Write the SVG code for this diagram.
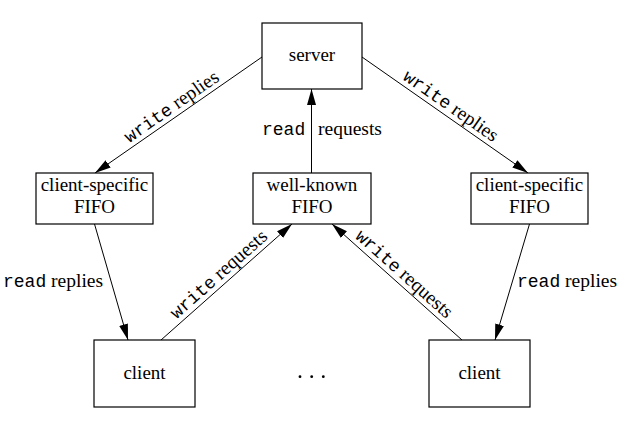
<svg xmlns="http://www.w3.org/2000/svg" width="629" height="423" viewBox="0 0 629 423">
<style>
.box{fill:#fff;stroke:#000;stroke-width:1.2}
.lbl{font-family:"Liberation Serif",serif;font-size:19px;fill:#000;text-anchor:middle}
.edge{stroke:#000;stroke-width:1;fill:none;marker-end:url(#ah)}
.m{font-family:"Liberation Mono",monospace;font-size:18px}
.s{font-family:"Liberation Serif",serif;font-size:19.5px}
.el{fill:#000}
</style>
<defs>
<marker id="ah" markerUnits="userSpaceOnUse" viewBox="0 0 16 10" refX="16" refY="5" markerWidth="16" markerHeight="10" orient="auto">
<path d="M0,0.5 L16,5 L0,9.5 z" fill="#000"/>
</marker>
</defs>
<rect width="629" height="423" fill="#fff"/>
<g id="connectors">
<line class="edge" x1="262" y1="57" x2="95" y2="173"/>
<line class="edge" x1="362" y1="57" x2="528" y2="173"/>
<line class="edge" x1="311.5" y1="173" x2="311.5" y2="89"/>
<line class="edge" x1="94.5" y1="224" x2="128" y2="340"/>
<line class="edge" x1="161" y1="340" x2="292" y2="224"/>
<line class="edge" x1="462" y1="340" x2="332" y2="224"/>
<line class="edge" x1="529.5" y1="224" x2="495" y2="340"/>
<g class="el">
<text transform="translate(177.7,115.6) rotate(-34.8)" y="-5" text-anchor="middle"><tspan class="m">write</tspan><tspan class="s"> replies</tspan></text>
<text transform="translate(444.6,114.7) rotate(34.9)" y="-5" text-anchor="middle"><tspan class="m">write</tspan><tspan class="s"> replies</tspan></text>
<text x="262" y="135"><tspan class="m">read</tspan></text>
<text x="318" y="135"><tspan class="s">requests</tspan></text>
<text x="3" y="287"><tspan class="m">read</tspan><tspan class="s"> replies</tspan></text>
<text x="517" y="287"><tspan class="m">read</tspan><tspan class="s"> replies</tspan></text>
<text transform="translate(225.9,282.5) rotate(-41.5)" y="-5" text-anchor="middle"><tspan class="m">write</tspan><tspan class="s"> requests</tspan></text>
<text transform="translate(397,282) rotate(41.7)" y="-5" text-anchor="middle"><tspan class="m">write</tspan><tspan class="s"> requests</tspan></text>
</g>
</g>
<g id="server">
<rect class="box" x="262" y="23" width="100" height="66"/>
<text class="lbl" x="312" y="61">server</text>
</g>
<g id="fifo-left">
<rect class="box" x="36" y="173" width="117" height="51"/>
<text class="lbl" x="94.5" y="191">client-specific</text>
<text class="lbl" x="94.5" y="213">FIFO</text>
</g>
<g id="fifo-well-known">
<rect class="box" x="253" y="173" width="118" height="51"/>
<text class="lbl" x="312" y="191">well-known</text>
<text class="lbl" x="312" y="213">FIFO</text>
</g>
<g id="fifo-right">
<rect class="box" x="471" y="173" width="117" height="51"/>
<text class="lbl" x="529.5" y="191">client-specific</text>
<text class="lbl" x="529.5" y="213">FIFO</text>
</g>
<g id="client-left">
<rect class="box" x="94" y="340" width="101" height="67"/>
<text class="lbl" x="144.5" y="379">client</text>
</g>
<g id="client-right">
<rect class="box" x="429" y="340" width="101" height="67"/>
<text class="lbl" x="479.5" y="379">client</text>
</g>
<g id="ellipsis">
<circle cx="300" cy="376.7" r="1.4"/>
<circle cx="311.7" cy="376.7" r="1.4"/>
<circle cx="323.3" cy="376.7" r="1.4"/>
</g>
</svg>
